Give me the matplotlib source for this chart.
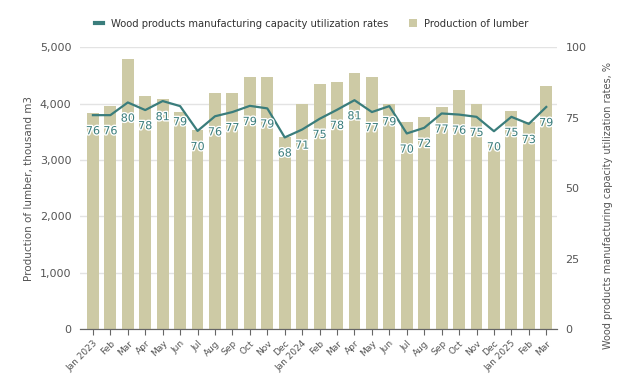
import matplotlib.pyplot as plt
import matplotlib.patheffects as pe
import numpy as np

months = ["Jan 2023", "Feb", "Mar", "Apr", "May", "Jun", "Jul", "Aug", "Sep", "Oct", "Nov", "Dec",
          "Jan 2024", "Feb", "Mar", "Apr", "May", "Jun", "Jul", "Aug", "Sep", "Oct", "Nov", "Dec",
          "Jan 2025", "Feb", "Mar"]
lumber = [3830, 3955, 4790, 4130, 4085, 3850, 3530, 4180, 4195, 4480, 4480, 3410,
          3990, 4340, 4380, 4545, 4465, 3990, 3675, 3755, 3940, 4240, 3990, 3310,
          3865, 3670, 4320]
util = [75.9, 75.9, 80.4, 77.7, 80.9, 79.1, 70.3, 75.5, 77.0, 79.2, 78.3, 68.0,
        70.8, 74.6, 77.8, 81.2, 77.0, 79.1, 69.4, 71.4, 76.5, 76.1, 75.3, 70.2,
        75.3, 72.8, 78.8]
util_labels = [76, 76, 80, 78, 81, 79, 70, 76, 77, 79, 79, 68,
               71, 75, 78, 81, 77, 79, 70, 72, 77, 76, 75, 70,
               75, 73, 79]

bar_col = "#cdcaa5"
line_col = "#3a7d7c"
txt_col = "#555555"

fig = plt.figure(figsize=(6.24, 3.9), dpi=100)
ax = fig.add_axes([0.128, 0.156, 0.765, 0.723])
ax2 = ax.twinx()

x = np.arange(len(months))
bars = ax.bar(x, lumber, width=0.68, color=bar_col, zorder=2, label="Production of lumber")
ax.set_ylim(0, 5000)
ax.set_xlim(-0.75, len(months) - 0.37)
ax.set_yticks(range(0, 5001, 1000))
ax.set_yticklabels(["{:,}".format(v) for v in range(0, 5001, 1000)])
ax.grid(axis="y", color="#e3e3e3", lw=1, zorder=0)
ax.set_axisbelow(True)
ax.set_xticks(x)
ax.set_xticklabels(months, rotation=45, ha="right", rotation_mode="anchor", fontsize=6.5, color=txt_col)
ax.set_ylabel("Production of lumber, thousand m3", color=txt_col, fontsize=7.5)

ln, = ax2.plot(x, util, color=line_col, lw=1.6, zorder=3,
               label="Wood products manufacturing capacity utilization rates")
ax2.set_ylim(0, 100)
ax2.set_yticks([0, 25, 50, 75, 100])
ax2.set_ylabel("Wood products manufacturing capacity utilization rates, %", color=txt_col, fontsize=7)
ax2.yaxis.set_label_coords(1.095, 0.44)
for xi, yi, lab in zip(x, util, util_labels):
    ax2.annotate(str(lab), (xi, yi), xytext=(0, -8), textcoords="offset points",
                 ha="center", va="top", fontsize=8, color=line_col,
                 path_effects=[pe.withStroke(linewidth=2, foreground="white")])

for a in (ax, ax2):
    for s in ["top", "left", "right"]:
        a.spines[s].set_visible(False)
    a.spines["bottom"].set_color("#666666")
    a.tick_params(axis="y", length=0, labelsize=8, labelcolor=txt_col, pad=6)
ax.tick_params(axis="x", length=4, color="#666666", pad=3)

leg = fig.legend([ln, bars], [ln.get_label(), bars.get_label()], loc="upper center",
                 bbox_to_anchor=(0.5, 0.975), ncol=2, frameon=False, fontsize=7.2,
                 labelcolor="#333333", handlelength=0.8, handleheight=0.8, columnspacing=2.0)
leg.get_lines()[0].set_linewidth(3)

fig.savefig("out.png", dpi=100)
